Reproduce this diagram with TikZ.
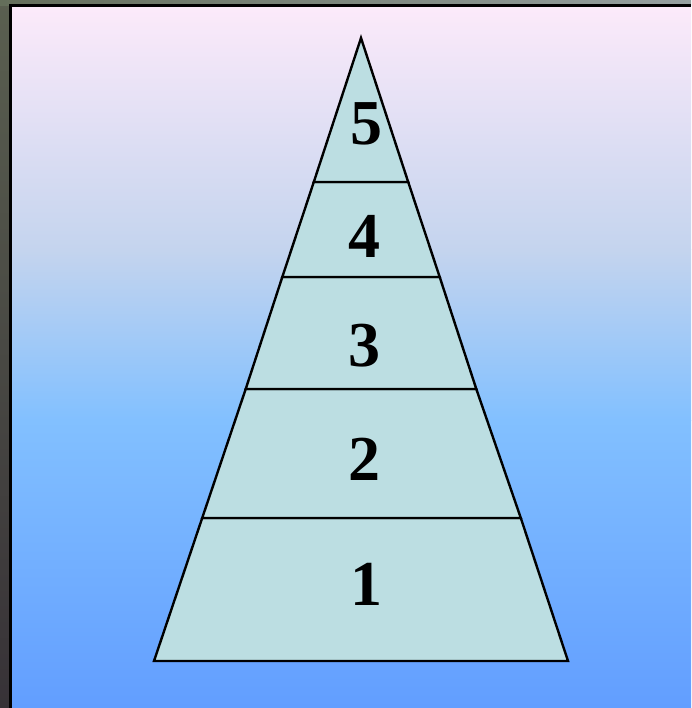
\documentclass[tikz,border=0pt]{standalone}
\usepackage{fontspec}
\setmainfont{Liberation Serif}
\begin{document}
\begin{tikzpicture}[x=1pt,y=-1pt,
  tier/.style={fill=tierfill,draw=black,line width=2.4pt,line join=miter},
  num/.style={font=\fontsize{64}{64}\selectfont\bfseries,text=black,inner sep=0pt,anchor=center}]
\definecolor{tierfill}{RGB}{188,222,226}
\definecolor{bgtop}{RGB}{252,234,250}
\definecolor{bgmid}{RGB}{196,212,238}
\definecolor{bgmid2}{RGB}{130,192,255}
\definecolor{bgbot}{RGB}{98,158,255}
\useasboundingbox (0,0) rectangle (691,708);
% outside photo strips
\fill[top color={rgb,255:red,90;green,95;blue,80},bottom color={rgb,255:red,55;green,50;blue,55}] (0,0) rectangle (10,708);
\fill[left color={rgb,255:red,100;green,110;blue,90},right color={rgb,255:red,150;green,160;blue,160}] (0,0) rectangle (691,6);
% background gradient
\shade[top color=bgtop,bottom color=bgmid] (10,6) rectangle (691,250);
\shade[top color=bgmid,bottom color=bgmid2] (10,250) rectangle (691,420);
\shade[top color=bgmid2,bottom color=bgbot] (10,420) rectangle (691,708);
% frame edges
\draw[black,line width=3pt] (10,708) -- (10,6) -- (691,6);
% pyramid tiers
\coordinate (apex) at (361,38);
\draw[tier] (154,661) -- (202.2,518) -- (520.8,518) -- (568,661) -- cycle;
\draw[tier] (202.2,518) -- (245.7,389) -- (476.3,389) -- (520.8,518) -- cycle;
\draw[tier] (245.7,389) -- (282.3,277) -- (439.7,277) -- (476.3,389) -- cycle;
\draw[tier] (282.3,277) -- (313.8,182) -- (408.2,182) -- (439.7,277) -- cycle;
\draw[tier] (313.8,182) -- (apex) -- (408.2,182) -- cycle;
% labels
\node[num] (n5) at (366,124) {5};
\node[num] (n4) at (364,236) {4};
\node[num] (n3) at (364,346) {3};
\node[num] (n2) at (364,459) {2};
\node[num] (n1) at (366,584) {1};
\end{tikzpicture}
\end{document}
